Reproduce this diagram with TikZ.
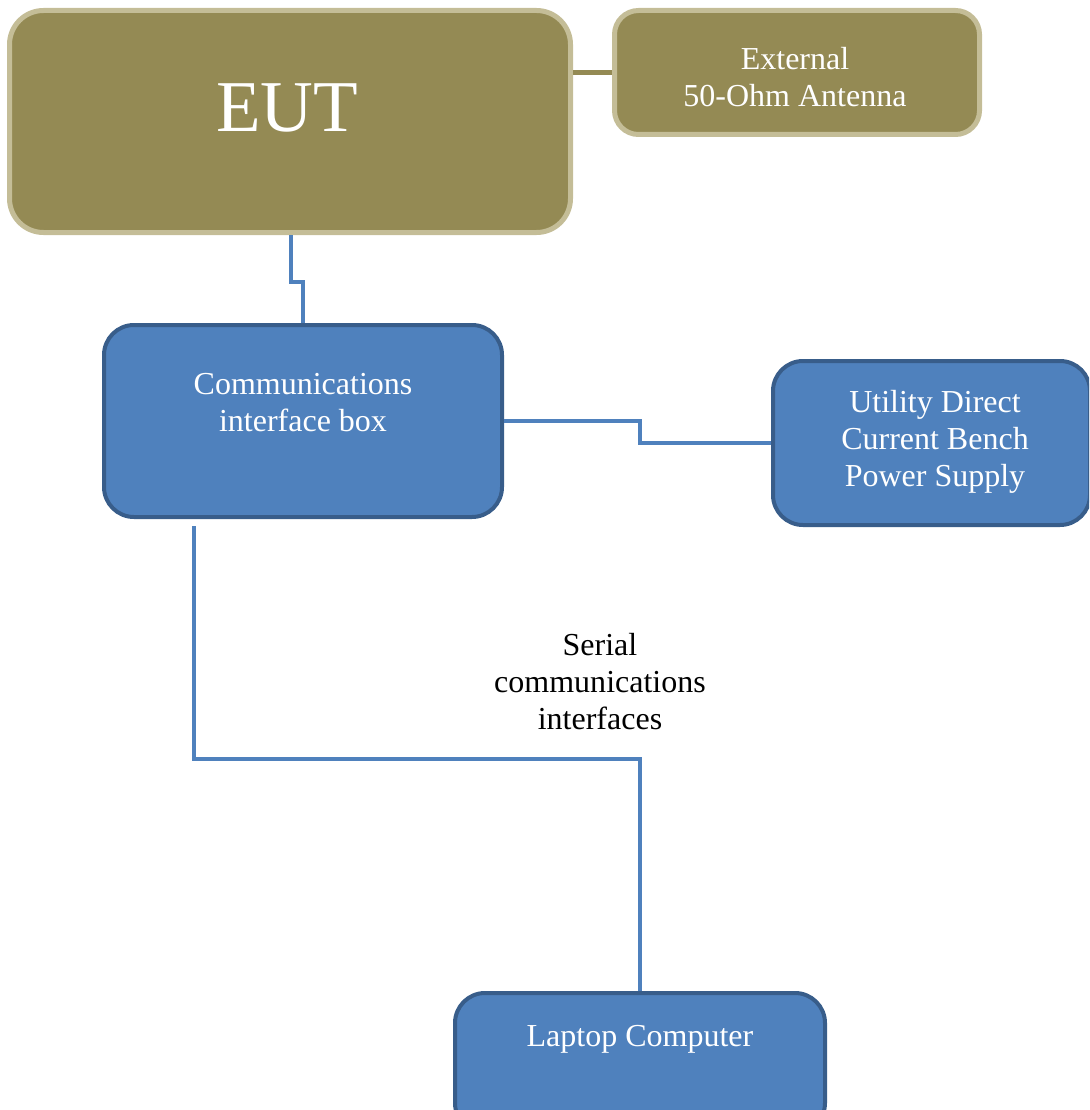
\documentclass[tikz,border=0pt]{standalone}
\usepackage{fontspec}
\setmainfont{Liberation Serif}
\usepackage{tikz}
\usetikzlibrary{positioning}
\definecolor{olivefill}{RGB}{148, 138, 84}
\definecolor{olivetrim}{RGB}{196, 189, 151}
\definecolor{bluefill}{RGB}{79, 129, 189}
\definecolor{bluetrim}{RGB}{56, 93, 138}

\begin{document}
\begin{tikzpicture}[x=1pt, y=-1pt,
    olivebox/.style={draw=olivetrim, fill=olivefill, line width=5pt, inner sep=0pt},
    bluebox/.style={draw=bluetrim, fill=bluefill, line width=4pt, inner sep=0pt},
    boxtext/.style={text=white, align=center, font=\fontsize{32}{37}\selectfont},
    wire/.style={bluefill, line width=4.5pt},
    olivewire/.style={olivefill, line width=4.5pt}]
  \useasboundingbox (0, 0) rectangle (1089, 1110);
  \clip (0, 0) rectangle (1089, 1110);

  \node[olivebox, rounded corners=34pt, minimum width=561pt, minimum height=222pt] (eut) at (290, 121.5) {};
  \node[text=white, font=\fontsize{73}{80}\selectfont] (euttext) at (287, 108) {EUT};

  \node[olivebox, rounded corners=24pt, minimum width=365pt, minimum height=124pt] (antenna) at (797, 72.5) {};
  \node[boxtext] (antennatext) at (795, 77) {External\\50-Ohm Antenna};

  \node[bluebox, rounded corners=30pt, minimum width=398pt, minimum height=192pt] (comm) at (303, 421) {};
  \node[boxtext] (commtext) at (303, 403) {Communications\\interface box};

  \node[bluebox, rounded corners=30pt, minimum width=317pt, minimum height=164pt] (psu) at (931.5, 443) {};
  \node[boxtext] (psutext) at (935, 442) {Utility Direct\\Current Bench\\Power Supply};

  \node[bluebox, rounded corners=30pt, minimum width=370pt, minimum height=140pt] (laptop) at (640, 1063) {};
  \node[boxtext] (laptoptext) at (640, 1039) {Laptop Computer};

  \node[align=center, font=\fontsize{32}{37}\selectfont] (serial) at (600, 682) {Serial\\communications\\interfaces};

  \coordinate (tap) at (194, 526);
  \coordinate (bend) at (194, 759);

  \draw[olivewire] (antenna.west) -- (antenna.west -| eut.east);
  \draw[wire] ([xshift=1pt]eut.south) -- ++(0, 47) -| (comm.north);
  \draw[wire] (comm.east) -- ++(136, 0) |- (psu.west);
  \draw[wire] (tap) -- (bend) -| (laptop.north);
\end{tikzpicture}
\end{document}
